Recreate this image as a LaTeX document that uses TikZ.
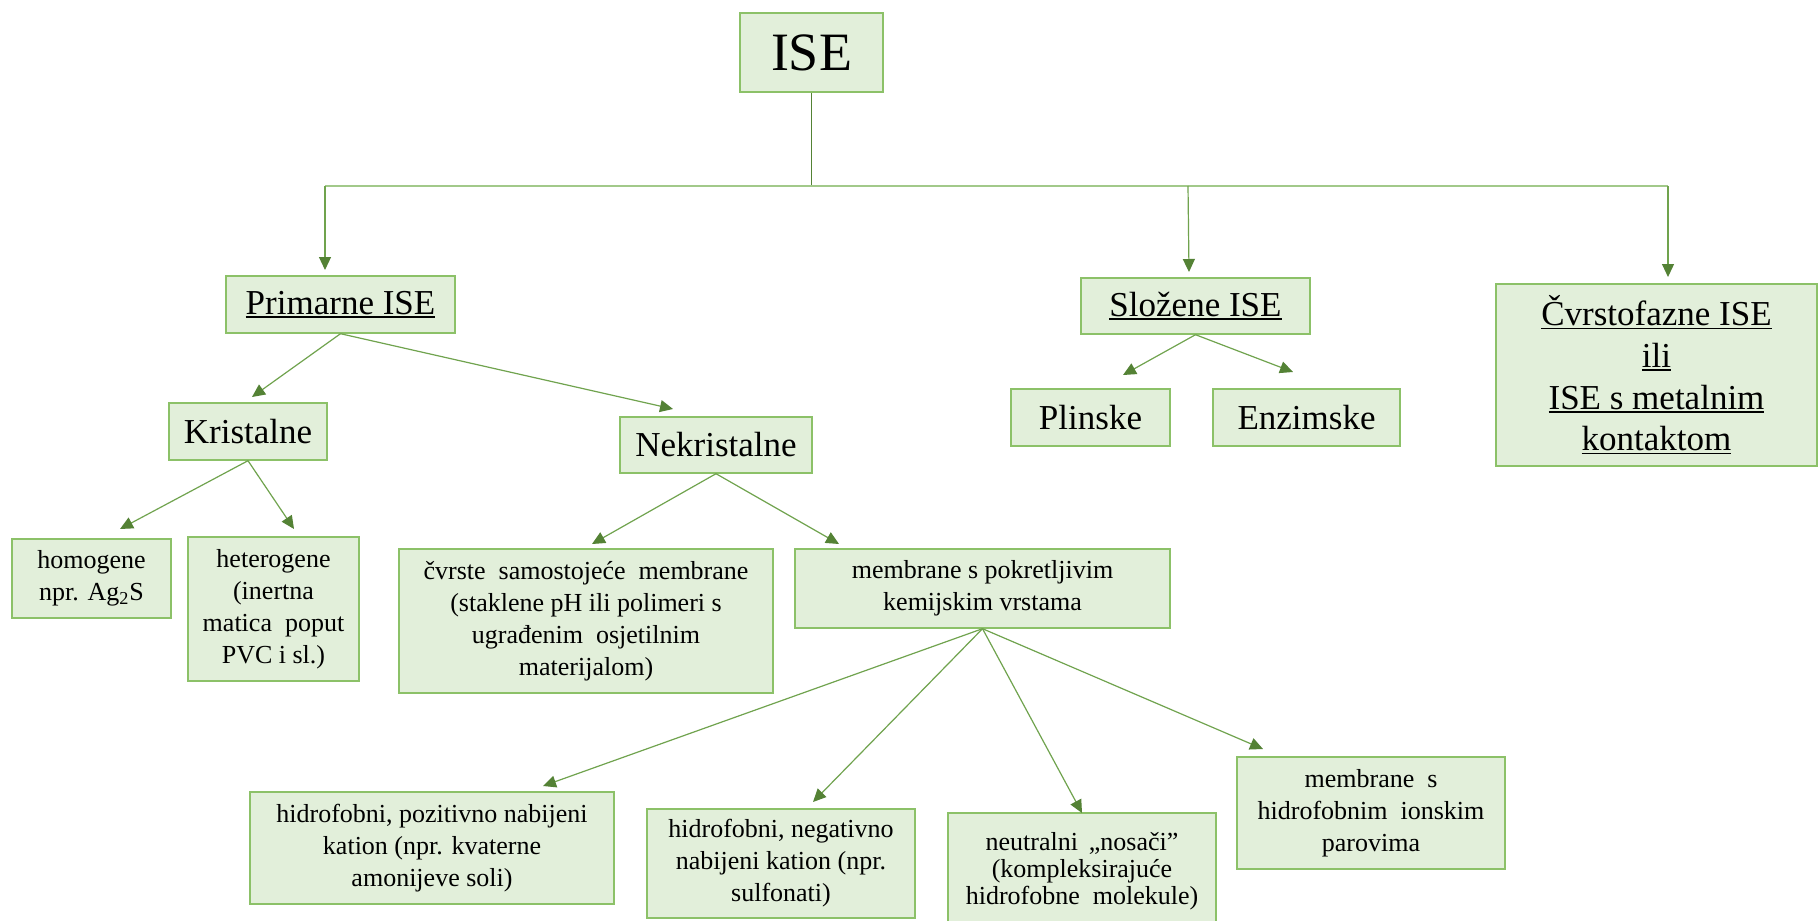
\documentclass[tikz,border=0pt]{standalone}
\usepackage{fontspec}
\setmainfont{Liberation Serif}
\usetikzlibrary{arrows.meta}
\definecolor{boxfill}{HTML}{E2EFDA}
\definecolor{boxline}{HTML}{8CC168}
\definecolor{conn}{HTML}{70A34E}
\definecolor{tipc}{HTML}{548235}
\definecolor{barc}{HTML}{A2C98A}
\newsavebox\ulbox
\newcommand\ulx[1]{\sbox\ulbox{#1}\rlap{\rule[-1.8pt]{\wd\ulbox}{0.8pt}}\usebox\ulbox}
\tikzset{
  box/.style={draw=boxline, fill=boxfill, line width=0.7pt, inner sep=0pt, align=center},
  small/.style={font=\fontsize{13}{16}\selectfont},
  mid/.style={font=\fontsize{17.5}{20.8}\selectfont},
  arr/.style={draw=conn, line width=0.6pt, -{Triangle[length=6.5pt,width=6pt,color=tipc]}},
  plain/.style={draw=conn, line width=0.6pt}
}
\begin{document}
\begin{tikzpicture}[x=0.5pt,y=-0.5pt]
\clip (0,0) rectangle (1818,920);
\fill[white] (0,0) rectangle (1818,920);
% boxes
\node[box, minimum width=71.5pt, minimum height=39.5pt, font=\fontsize{27}{30}\selectfont] (ise) at (811.5,52.5) {ISE};
\node[box, mid, minimum width=114.5pt, minimum height=28.5pt] (prim) at (340.5,304.5) {\ulx{Primarne ISE}};
\node[box, mid, minimum width=114.5pt, minimum height=28pt] (slo) at (1195.5,306) {\ulx{Složene ISE}};
\node[box, mid, minimum width=160.5pt, minimum height=91pt] (cvr) at (1656.5,375) {\ulx{Čvrstofazne ISE}\\\ulx{ili}\\\ulx{ISE s metalnim}\\\ulx{kontaktom}};
\node[box, mid, minimum width=79pt, minimum height=28.5pt] (kris) at (248,431.5) {Kristalne};
\node[box, mid, minimum width=96pt, minimum height=28pt] (nek) at (716,445) {Nekristalne};
\node[box, mid, minimum width=79.5pt, minimum height=28.5pt] (plin) at (1090.5,417.5) {Plinske};
\node[box, mid, minimum width=93.5pt, minimum height=28.5pt] (enz) at (1306.5,417.5) {Enzimske};
\node[box, small, minimum width=79.5pt, minimum height=39.5pt] (hom) at (91.5,578.5) {homogene\\npr. Ag\textsubscript{2}S};
\node[box, small, minimum width=85.5pt, minimum height=72pt] (het) at (273.5,609) {heterogene\\(inertna\\matica \ poput\\PVC i sl.)};
\node[box, small, minimum width=187pt, minimum height=72pt] (cvm) at (586,621) {čvrste \ samostojeće \ membrane\\(staklene pH ili polimeri s\\ugrađenim \ osjetilnim\\materijalom)};
\node[box, small, minimum width=187.5pt, minimum height=39.5pt] (mem) at (982.5,588.5) {membrane s pokretljivim\\kemijskim vrstama};
\node[box, small, minimum width=182pt, minimum height=56pt] (poz) at (432,848) {hidrofobni, pozitivno nabijeni\\kation (npr. kvaterne\\amonijeve soli)};
\node[box, small, minimum width=134pt, minimum height=54.5pt] (neg) at (781,863.5) {hidrofobni, negativno\\nabijeni kation (npr.\\sulfonati)};
\node[box, font=\fontsize{13}{13.5}\selectfont, minimum width=134pt, minimum height=58.5pt] (neu) at (1082,871.5) {neutralni \,„nosači”\\(kompleksirajuće\\hidrofobne \ molekule)};
\node[box, small, minimum width=134pt, minimum height=56pt] (hip) at (1371,813) {membrane \ s\\hidrofobnim \ ionskim\\parovima};
% connector points
\coordinate (bar) at (811.5,186);
\coordinate (bl) at (325,186);
\coordinate (bm) at (1188,186);
\coordinate (br) at (1668,186);
\coordinate (tprim) at (325,270);
\coordinate (tslo) at (1189,272);
\coordinate (tcvr) at (1668,277);
\coordinate (tkris) at (252,397);
\coordinate (tnek) at (673,409);
\coordinate (thom) at (120,529);
\coordinate (thet) at (294,529);
\coordinate (tplin) at (1123,375);
\coordinate (tenz) at (1293,372);
\coordinate (tcvm) at (592,544);
\coordinate (tmem) at (839,544);
\coordinate (tpoz) at (543,786);
\coordinate (tneg) at (813,802);
\coordinate (tneu) at (1082,813);
\coordinate (thip) at (1263,749);
% connectors
\draw[plain, draw=tipc] (ise.south) -- (bar);
\draw[draw=barc, line width=1pt] (bl) -- (br);
\draw[arr] (bl) -- (tprim);
\draw[arr] (bm) -- (tslo);
\draw[arr] (br) -- (tcvr);
\draw[arr] (prim.south) -- (tkris);
\draw[arr] (prim.south) -- (tnek);
\draw[arr] (kris.south) -- (thom);
\draw[arr] (kris.south) -- (thet);
\draw[arr] (slo.south) -- (tplin);
\draw[arr] (slo.south) -- (tenz);
\draw[arr] (nek.south) -- (tcvm);
\draw[arr] (nek.south) -- (tmem);
\draw[arr] (mem.south) -- (tpoz);
\draw[arr] (mem.south) -- (tneg);
\draw[arr] (mem.south) -- (tneu);
\draw[arr] (mem.south) -- (thip);
\end{tikzpicture}
\end{document}
